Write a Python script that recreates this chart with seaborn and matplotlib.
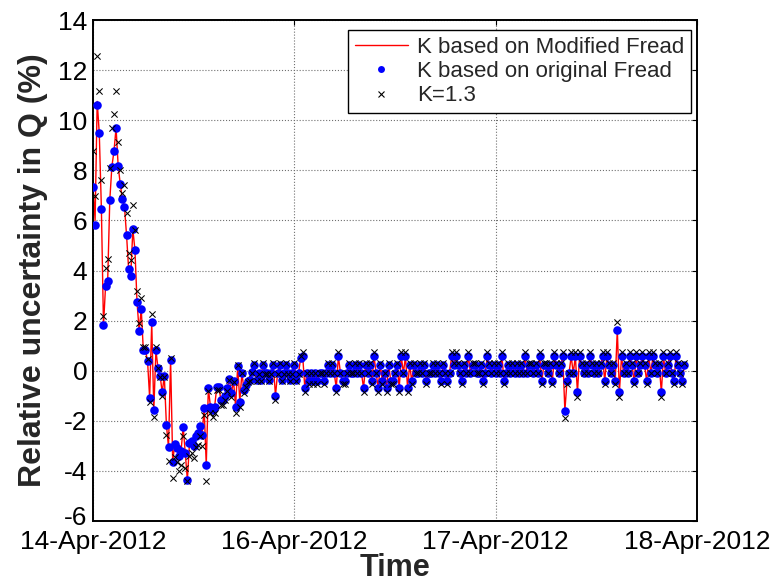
import numpy as np
import pandas as pd
import matplotlib
matplotlib.use("Agg")
import matplotlib.pyplot as plt
import matplotlib.transforms as mtransforms
from matplotlib.lines import Line2D
import seaborn as sns

# Relative uncertainty in discharge Q (%), 15-minute samples
k_modified = [
    7.35, 6.00, 10.75, 9.47, 6.47, 1.81, 3.40, 3.60, 6.80, 8.15,
    8.76, 9.70, 8.17, 7.45, 6.84, 6.55, 5.41, 4.04, 3.80, 5.64,
    4.82, 2.73, 1.60, 2.47, 0.81, 0.81, 0.40, -1.07, 1.93, -1.56,
    0.81, 0.10, -0.20, -0.87, -0.20, -2.16, -3.05, 0.44, -3.65, -2.92,
    -3.10, -3.40, -3.20, -2.23, -3.30, -4.36, -2.90, -2.80, -3.00, -2.60,
    -2.50, -2.20, -2.56, -1.50, -3.76, -0.70, -1.43, -1.56, -1.43, -0.67,
    -0.67, -1.16, -1.16, -1.00, -0.70, -0.33, -0.90, -0.40, -1.43, 0.20,
    -1.23, -0.09, -0.76, -0.56, -0.40, -0.36, -0.07, 0.24, -0.36, -0.10,
    -0.36, 0.24, -0.10, -0.10, -0.36, -0.10, 0.24, -1.00, -0.10, 0.24,
    -0.36, -0.10, 0.24, -0.10, -0.36, -0.10, 0.24, -0.36, -0.10, 0.50,
    0.57, -0.69, -0.09, -0.43, -0.09, -0.43, -0.09, -0.43, -0.09, -0.09,
    -0.43, -0.09, 0.24, -0.09, 0.24, -0.09, -0.69, 0.57, -0.09, -0.43,
    -0.43, -0.09, 0.24, -0.09, -0.09, 0.24, -0.09, 0.24, -0.09, -0.69,
    0.24, -0.09, 0.24, -0.43, 0.57, -0.09, -0.69, 0.24, -0.43, -0.09,
    -0.69, 0.24, -0.43, -0.43, -0.09, 0.24, -0.69, 0.57, -0.09, 0.57,
    -0.69, 0.24, -0.43, 0.24, -0.09, -0.09, 0.24, -0.09, 0.24, -0.43,
    -0.09, -0.09, 0.24, -0.09, 0.24, -0.09, -0.43, 0.24, -0.09, -0.43,
    -0.09, 0.57, 0.24, 0.57, 0.24, -0.09, -0.43, 0.24, -0.09, 0.57,
    -0.09, 0.24, 0.24, -0.09, -0.09, 0.24, -0.43, -0.09, 0.57, 0.24,
    -0.09, 0.24, -0.09, 0.24, -0.09, 0.57, -0.43, -0.09, 0.24, -0.09,
    0.24, -0.09, 0.24, -0.09, 0.24, -0.09, 0.57, -0.09, 0.24, 0.24,
    -0.09, 0.24, -0.09, 0.57, -0.43, 0.24, 0.24, -0.09, 0.24, -0.43,
    0.57, 0.24, -0.09, 0.24, 0.57, -1.60, -0.43, -0.09, 0.57, -0.09,
    0.57, -0.87, 0.57, 0.24, -0.09, 0.24, -0.09, 0.57, 0.24, -0.09,
    0.24, -0.09, 0.24, 0.57, -0.43, 0.57, 0.24, -0.09, 0.24, -0.43,
    1.64, -0.87, 0.57, -0.09, 0.24, -0.09, 0.57, 0.24, -0.43, 0.57,
    -0.09, 0.24, 0.57, 0.24, -0.43, 0.57, -0.09, 0.57, 0.24, -0.09,
    0.24, -0.87, 0.57, -0.09, 0.24, 0.57, -0.09, -0.43, 0.57, 0.24,
    -0.09, -0.43, 0.24,
]

k_original = [
    7.35, 5.80, 10.60, 9.47, 6.47, 1.81, 3.40, 3.60, 6.80, 8.15,
    8.76, 9.70, 8.17, 7.45, 6.84, 6.55, 5.41, 4.04, 3.80, 5.64,
    4.82, 2.73, 1.60, 2.47, 0.81, 0.81, 0.40, -1.07, 1.93, -1.56,
    0.81, 0.10, -0.20, -0.87, -0.20, -2.16, -3.05, 0.44, -3.65, -2.92,
    -3.10, -3.40, -3.20, -2.23, -3.30, -4.36, -2.90, -2.80, -3.00, -2.60,
    -2.50, -2.20, -2.56, -1.50, -3.76, -0.70, -1.43, -1.56, -1.43, -0.67,
    -0.67, -1.16, -1.16, -1.00, -0.70, -0.33, -0.90, -0.40, -1.43, 0.20,
    -1.23, -0.09, -0.76, -0.56, -0.40, -0.36, -0.07, 0.24, -0.36, -0.10,
    -0.36, 0.24, -0.10, -0.10, -0.36, -0.10, 0.24, -1.00, -0.10, 0.24,
    -0.36, -0.10, 0.24, -0.10, -0.36, -0.10, 0.24, -0.36, -0.10, 0.50,
    0.57, -0.69, -0.09, -0.43, -0.09, -0.43, -0.09, -0.43, -0.09, -0.09,
    -0.43, -0.09, 0.24, -0.09, 0.24, -0.09, -0.69, 0.57, -0.09, -0.43,
    -0.43, -0.09, 0.24, -0.09, -0.09, 0.24, -0.09, 0.24, -0.09, -0.69,
    0.24, -0.09, 0.24, -0.43, 0.57, -0.09, -0.69, 0.24, -0.43, -0.09,
    -0.69, 0.24, -0.43, -0.43, -0.09, 0.24, -0.69, 0.57, -0.09, 0.57,
    -0.69, 0.24, -0.43, 0.24, -0.09, -0.09, 0.24, -0.09, 0.24, -0.43,
    -0.09, -0.09, 0.24, -0.09, 0.24, -0.09, -0.43, 0.24, -0.09, -0.43,
    -0.09, 0.57, 0.24, 0.57, 0.24, -0.09, -0.43, 0.24, -0.09, 0.57,
    -0.09, 0.24, 0.24, -0.09, -0.09, 0.24, -0.43, -0.09, 0.57, 0.24,
    -0.09, 0.24, -0.09, 0.24, -0.09, 0.57, -0.43, -0.09, 0.24, -0.09,
    0.24, -0.09, 0.24, -0.09, 0.24, -0.09, 0.57, -0.09, 0.24, 0.24,
    -0.09, 0.24, -0.09, 0.57, -0.43, 0.24, 0.24, -0.09, 0.24, -0.43,
    0.57, 0.24, -0.09, 0.24, 0.57, -1.60, -0.43, -0.09, 0.57, -0.09,
    0.57, -0.87, 0.57, 0.24, -0.09, 0.24, -0.09, 0.57, 0.24, -0.09,
    0.24, -0.09, 0.24, 0.57, -0.43, 0.57, 0.24, -0.09, 0.24, -0.43,
    1.64, -0.87, 0.57, -0.09, 0.24, -0.09, 0.57, 0.24, -0.43, 0.57,
    -0.09, 0.24, 0.57, 0.24, -0.43, 0.57, -0.09, 0.57, 0.24, -0.09,
    0.24, -0.87, 0.57, -0.09, 0.24, 0.57, -0.09, -0.43, 0.57, 0.24,
    -0.09, -0.43, 0.24,
]

k_fixed = [
    8.77, 6.97, 12.56, 11.17, 7.60, 2.20, 4.08, 4.44, 8.10, 9.70,
    10.24, 11.17, 9.13, 8.00, 7.10, 7.40, 6.30, 4.70, 4.40, 6.60,
    5.60, 3.20, 1.90, 2.90, 0.95, 0.95, 0.47, -1.25, 2.25, -1.83,
    0.95, 0.12, -0.24, -1.02, -0.24, -2.55, -3.60, 0.52, -4.30, -3.45,
    -3.65, -4.00, -3.75, -2.60, -3.90, -4.40, -3.40, -3.30, -3.50, -3.05,
    -2.95, -2.60, -3.00, -1.77, -4.40, -0.83, -1.69, -1.84, -1.69, -0.79,
    -0.79, -1.37, -1.37, -1.18, -0.83, -0.39, -1.06, -0.47, -1.69, 0.24,
    -1.45, -0.11, -0.90, -0.66, -0.47, -0.42, -0.08, 0.30, -0.42, -0.12,
    -0.42, 0.30, -0.12, -0.12, -0.42, -0.12, 0.30, -1.18, -0.12, 0.30,
    -0.42, -0.12, 0.30, -0.12, -0.42, -0.12, 0.30, -0.42, -0.12, 0.60,
    0.74, -0.86, -0.11, -0.55, -0.11, -0.55, -0.11, -0.55, -0.11, -0.11,
    -0.55, -0.11, 0.31, -0.11, 0.31, -0.11, -0.86, 0.74, -0.11, -0.55,
    -0.55, -0.11, 0.31, -0.11, -0.11, 0.31, -0.11, 0.31, -0.11, -0.86,
    0.31, -0.11, 0.31, -0.55, 0.74, -0.11, -0.86, 0.31, -0.55, -0.11,
    -0.86, 0.31, -0.55, -0.55, -0.11, 0.31, -0.86, 0.74, -0.11, 0.74,
    -0.86, 0.31, -0.55, 0.31, -0.11, -0.11, 0.31, -0.11, 0.31, -0.55,
    -0.11, -0.11, 0.31, -0.11, 0.31, -0.11, -0.55, 0.31, -0.11, -0.55,
    -0.11, 0.74, 0.31, 0.74, 0.31, -0.11, -0.55, 0.31, -0.11, 0.74,
    -0.11, 0.31, 0.31, -0.11, -0.11, 0.31, -0.55, -0.11, 0.74, 0.31,
    -0.11, 0.31, -0.11, 0.31, -0.11, 0.74, -0.55, -0.11, 0.31, -0.11,
    0.31, -0.11, 0.31, -0.11, 0.31, -0.11, 0.74, -0.11, 0.31, 0.31,
    -0.11, 0.31, -0.11, 0.74, -0.55, 0.31, 0.31, -0.11, 0.31, -0.55,
    0.74, 0.31, -0.11, 0.31, 0.74, -1.90, -0.55, -0.11, 0.74, -0.11,
    0.74, -1.05, 0.74, 0.31, -0.11, 0.31, -0.11, 0.74, 0.31, -0.11,
    0.31, -0.11, 0.31, 0.74, -0.55, 0.74, 0.31, -0.11, 0.31, -0.55,
    1.95, -1.05, 0.74, -0.11, 0.31, -0.11, 0.74, 0.31, -0.55, 0.74,
    -0.11, 0.31, 0.74, 0.31, -0.55, 0.74, -0.11, 0.74, 0.31, -0.11,
    0.31, -1.05, 0.74, -0.11, 0.31, 0.74, -0.11, -0.55, 0.74, 0.31,
    -0.11, -0.55, 0.31,
]

series_names = ["K based on Modified Fread", "K based on original Fread", "K=1.3"]
tick_days = [0, 1, 2, 3]
tick_labels = ["14-Apr-2012", "16-Apr-2012", "17-Apr-2012", "18-Apr-2012"]
y_ticks = list(range(-6, 15, 2))

# samples every 15 minutes, expressed in days from the left edge of the axis
days = np.arange(len(k_original)) * (15 / 1440)

df = pd.DataFrame({
    "day": days,
    "modified": k_modified,
    "original": k_original,
    "fixed": k_fixed,
})

sns.set_style("white")
plt.rcParams["font.family"] = ["Liberation Sans", "DejaVu Sans"]
plt.rcParams["axes.unicode_minus"] = False

W, H = 778, 588
fig = plt.figure(figsize=(W / 100, H / 100), dpi=100)
ax = fig.add_axes([93 / W, (H - 521) / H, 604 / W, 501 / H])

sns.lineplot(data=df, x="day", y="modified", color="red", linewidth=1.0,
             sort=False, estimator=None, ax=ax, zorder=2)
sns.scatterplot(data=df, x="day", y="original", color="blue", s=38,
                linewidth=0, ax=ax, zorder=3)
sns.scatterplot(data=df, x="day", y="fixed", color="black", marker="x",
                s=20, linewidth=0.75, ax=ax, zorder=4)

ax.set_xlim(0, 3)
ax.set_ylim(-6, 14)
ax.set_xticks(tick_days)
ax.set_xticklabels(tick_labels)
ax.set_yticks(y_ticks)

ax.grid(True, linestyle=":", color="#707070", linewidth=0.8)
ax.set_axisbelow(True)
ax.tick_params(direction="in", length=3.5, width=0.8, top=True, right=True,
               labelsize=19, colors="black", pad=4)
ax.tick_params(axis="x", pad=6.5)
for sp in ax.spines.values():
    sp.set_color("black")
    sp.set_linewidth(1.4)

# lift the lowest y label a little so it clears the first date label
lowest = ax.yaxis.get_major_ticks()[0].label1
lowest.set_transform(lowest.get_transform()
                     + mtransforms.ScaledTranslation(0, 4 / 72, fig.dpi_scale_trans))

ax.set_xlabel("Time", fontsize=22, fontweight="bold", labelpad=-1)
ax.set_ylabel("Relative uncertainty in Q (%)", fontsize=23, fontweight="bold",
              labelpad=7)

handles = [
    Line2D([], [], color="red", linewidth=1.0),
    Line2D([], [], color="blue", marker="o", linestyle="none", markersize=5,
           markeredgewidth=0),
    Line2D([], [], color="black", marker="x", linestyle="none", markersize=4,
           markeredgewidth=0.8),
]
leg = ax.legend(handles, series_names, loc="upper right",
                bbox_to_anchor=(0.99, 0.98), fontsize=16, frameon=True,
                fancybox=False, edgecolor="black", framealpha=1,
                handlelength=2.4, labelspacing=0.15, borderpad=0.3,
                handletextpad=0.4, borderaxespad=0)
leg.get_frame().set_linewidth(1.0)

fig.savefig("out.png", dpi=100)
